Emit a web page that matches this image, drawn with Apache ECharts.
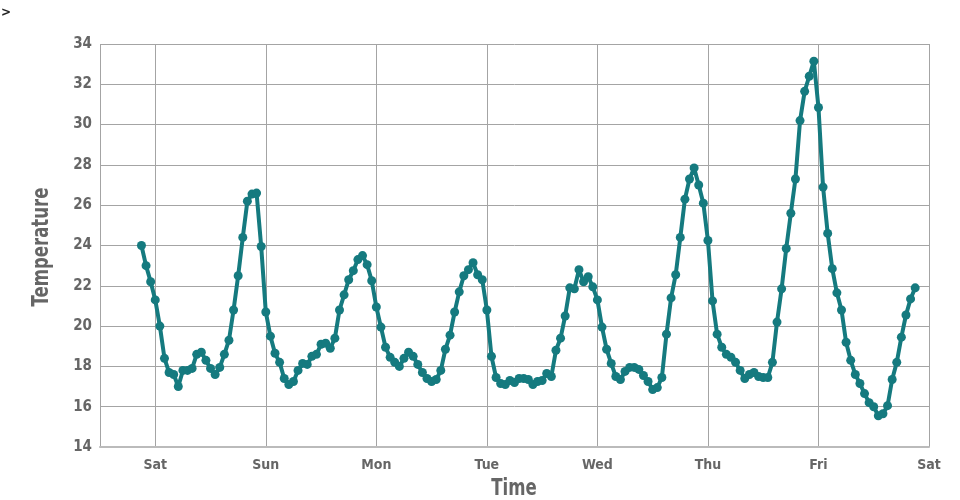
<!DOCTYPE html>
<html>
<head>
<meta charset="utf-8">
<script src="https://cdn.jsdelivr.net/npm/echarts@6/dist/echarts.min.js"></script>
<style>
html,body{margin:0;padding:0;background:#fff;overflow:hidden;width:960px;height:500px;}
#chart{width:960px;height:500px;display:block;}
</style>
</head>
<body>
<div id="chart"></div>
<script>
// Hourly temperature readings, starting Friday 21:00
const friEvening = [24.0, 23.0, 22.2];
const saturday = [21.3, 20.0, 18.4, 17.7, 17.6, 17.0, 17.8, 17.8, 17.9, 18.6, 18.7, 18.3, 17.9, 17.6, 17.95, 18.6, 19.3, 20.8, 22.5, 24.4, 26.2, 26.55, 26.6, 23.95];
const sunday = [20.7, 19.5, 18.65, 18.2, 17.4, 17.1, 17.25, 17.8, 18.15, 18.1, 18.5, 18.6, 19.1, 19.15, 18.9, 19.4, 20.8, 21.55, 22.3, 22.75, 23.3, 23.5, 23.05, 22.25];
const monday = [20.95, 19.95, 18.95, 18.45, 18.2, 18.0, 18.4, 18.7, 18.5, 18.1, 17.7, 17.4, 17.25, 17.35, 17.8, 18.85, 19.55, 20.7, 21.7, 22.5, 22.8, 23.15, 22.55, 22.3];
const tuesday = [20.8, 18.5, 17.45, 17.15, 17.1, 17.3, 17.2, 17.4, 17.4, 17.35, 17.1, 17.25, 17.3, 17.65, 17.5, 18.8, 19.4, 20.5, 21.9, 21.85, 22.8, 22.2, 22.45, 21.95];
const wednesday = [21.3, 19.95, 18.85, 18.15, 17.5, 17.35, 17.75, 17.95, 17.95, 17.85, 17.55, 17.25, 16.85, 16.95, 17.45, 19.6, 21.4, 22.55, 24.4, 26.3, 27.3, 27.85, 27.0, 26.1];
const thursday = [24.25, 21.25, 19.6, 18.95, 18.6, 18.45, 18.2, 17.8, 17.4, 17.6, 17.7, 17.5, 17.45, 17.45, 18.2, 20.2, 21.85, 23.85, 25.6, 27.3, 30.2, 31.65, 32.4, 33.15];
const friday = [30.85, 26.9, 24.6, 22.85, 21.65, 20.8, 19.2, 18.3, 17.6, 17.15, 16.65, 16.2, 16.0, 15.55, 15.65, 16.05, 17.35, 18.2, 19.45, 20.55, 21.35, 21.9];

const dayNames = ['Sun', 'Mon', 'Tue', 'Wed', 'Thu', 'Fri', 'Sat'];
const xTitle = 'Time';
const yTitle = 'Temperature';

const HOUR = 3600 * 1000;
const startTime = new Date(2023, 0, 6, 21).getTime();   // Friday 21:00
const axisMin = new Date(2023, 0, 6, 12).getTime();     // Friday 12:00
const axisMax = new Date(2023, 0, 14, 0).getTime();     // Saturday 00:00

const temps = [].concat(friEvening, saturday, sunday, monday, tuesday, wednesday, thursday, friday);
const seriesData = temps.map((v, i) => [startTime + i * HOUR, v]);

const FONT = "'Liberation Sans Narrow', 'DejaVu Sans Condensed', 'Roboto Condensed', sans-serif";
const LABEL = '#666666';
const GRID = '#a4a4a4';
const TEAL = '#157a7f';

const chart = echarts.init(document.getElementById('chart'), null, {renderer: 'canvas', width: 960, height: 500});
chart.setOption({
  animation: false,
  backgroundColor: '#ffffff',
  grid: {left: 100, top: 44, width: 829, height: 403, containLabel: false},
  graphic: [
    {type: 'text', left: 1, top: 7,
     style: {text: '>', font: "bold 12px 'DejaVu Sans'", fill: '#222'}},
    {type: 'text', x: 514, y: 489, scaleX: 0.8,
     style: {text: xTitle, font: "bold 23px " + FONT, fill: LABEL, align: 'center', verticalAlign: 'middle'}},
    {type: 'text', x: 42, y: 247, rotation: Math.PI / 2, scaleX: 0.8,
     style: {text: yTitle, font: "bold 23px " + FONT, fill: LABEL, align: 'center', verticalAlign: 'middle'}}
  ],
  xAxis: {
    type: 'time',
    min: axisMin,
    max: axisMax,
    minInterval: 24 * HOUR,
    maxInterval: 24 * HOUR,
    axisLine: {show: true, lineStyle: {color: '#bbbbbb', width: 2}},
    axisTick: {show: false},
    axisLabel: {
      fontFamily: FONT, fontSize: 14, fontWeight: 'bold', color: LABEL, margin: 11,
      showMinLabel: false, showMaxLabel: true,
      formatter: function (val) { return dayNames[new Date(val).getDay()]; }
    },
    splitLine: {show: true, lineStyle: {color: GRID, width: 1}}
  },
  yAxis: {
    type: 'value',
    min: 14,
    max: 34,
    interval: 2,
    axisLine: {show: false},
    axisTick: {show: false},
    axisLabel: {fontFamily: FONT, fontSize: 15, fontWeight: 'bold', color: LABEL, margin: 8},
    splitLine: {show: true, lineStyle: {color: GRID, width: 1}}
  },
  series: [{
    type: 'line',
    data: seriesData,
    smooth: false,
    symbol: 'circle',
    symbolSize: 9,
    showAllSymbol: true,
    lineStyle: {color: TEAL, width: 4},
    itemStyle: {color: TEAL}
  }]
});
</script>
</body>
</html>
